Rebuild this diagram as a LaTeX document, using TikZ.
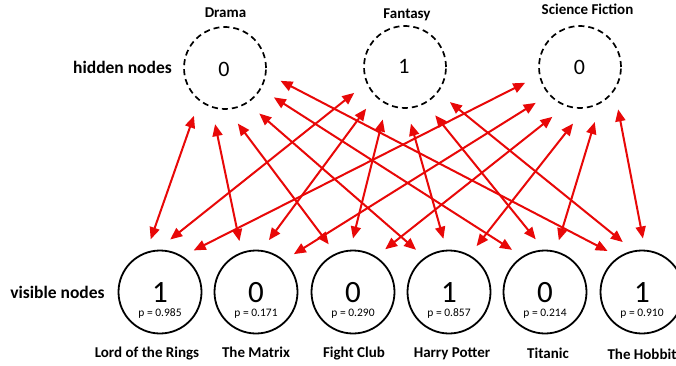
\documentclass[tikz,border=0pt]{standalone}
\usepackage{fontspec}
\setmainfont{Carlito}
\usetikzlibrary{arrows.meta}
\definecolor{arrred}{RGB}{232,8,8}
\tikzset{
  hid/.style={circle,draw=black,line width=1.7pt,dash pattern=on 6pt off 4pt,minimum size=82pt,inner sep=0pt,outer sep=16pt},
  vis/.style={circle,draw=black,line width=1.8pt,minimum size=83pt,inner sep=0pt,outer sep=12pt},
  conn/.style={arrred,line width=2pt,{Triangle[length=12pt,width=10pt]}-{Triangle[length=12pt,width=10pt]}},
  ttl/.style={font=\fontsize{15}{18}\selectfont\bfseries,anchor=base,inner sep=0pt},
  side/.style={font=\fontsize{17.5}{20}\selectfont\bfseries,anchor=base,inner sep=0pt},
  hdig/.style={font=\fontsize{22}{26}\selectfont,inner sep=0pt},
  vdig/.style={font=\fontsize{31}{34}\selectfont,inner sep=0pt},
  ptxt/.style={font=\fontsize{11.5}{13}\selectfont,anchor=base,inner sep=0pt}
}
\begin{document}
\begin{tikzpicture}[x=1pt,y=-1pt]
\useasboundingbox[fill=white] (0,0) rectangle (676,366);
% hidden nodes
\node[hid] (dr) at (225,68) {};
\node[hid] (fa) at (405,67) {};
\node[hid] (sf) at (580,67) {};
\node[hdig] (drv) at (224,69) {0};
\node[hdig] (fav) at (404,66) {1};
\node[hdig] (sfv) at (579.5,67) {0};
\node[ttl] (drt) at (225.5,17.5) {Drama};
\node[ttl] (fat) at (407,18.5) {Fantasy};
\node[ttl] (sft) at (587.5,15) {Science Fiction};
\node[side] (hl) at (122.5,74) {hidden nodes};
% visible nodes
\node[vis] (lotr) at (160,292) {};
\node[vis] (mat) at (256,292) {};
\node[vis] (fc) at (353,292) {};
\node[vis] (hp) at (449,292) {};
\node[vis] (tit) at (545,292) {};
\node[vis] (hob) at (642,292) {};
\node[vdig] (lotrv) at (160,292.5) {1};
\node[vdig] (matv) at (256,292.5) {0};
\node[vdig] (fcv) at (353,292.5) {0};
\node[vdig] (hpv) at (449,292.5) {1};
\node[vdig] (titv) at (545,292.5) {0};
\node[vdig] (hobv) at (642,292.5) {1};
\node[ptxt] (lotrp) at (160,316.5) {p = 0.985};
\node[ptxt] (matp) at (256,316.5) {p = 0.171};
\node[ptxt] (fcp) at (353,316.5) {p = 0.290};
\node[ptxt] (hpp) at (449,316.5) {p = 0.857};
\node[ptxt] (titp) at (545,316.5) {p = 0.214};
\node[ptxt] (hobp) at (642,316.5) {p = 0.910};
\node[ttl] (lotrt) at (147,357) {Lord of the Rings};
\node[ttl] (matt) at (256,357) {The Matrix};
\node[ttl] (fct) at (354,357) {Fight Club};
\node[ttl] (hpt) at (452,357.5) {Harry Potter};
\node[ttl] (titt) at (548,358) {Titanic};
\node[ttl] (hobt) at (642,359) {The Hobbit};
\node[side] (vl) at (57.5,298.3) {visible nodes};
% connections
\draw[conn] (dr.237) -- (lotr.100);
\draw[conn] (dr.260) -- (mat.108);
\draw[conn] (dr.283.5) -- (fc.117);
\draw[conn] (dr.307) -- (hp.128.5);
\draw[conn] (dr.329) -- (tit.128.7);
\draw[conn] (dr.347) -- (hob.130.6);
\draw[conn] (fa.207) -- (lotr.79.5);
\draw[conn] (fa.227) -- (mat.76);
\draw[conn] (fa.247) -- (fc.90);
\draw[conn] (fa.276) -- (hp.96.6);
\draw[conn] (fa.302) -- (tit.100.8);
\draw[conn] (fa.322.5) -- (hob.111);
\draw[conn] (sf.196) -- (lotr.51.5);
\draw[conn] (sf.219.6) -- (mat.45);
\draw[conn] (sf.241) -- (fc.53.3);
\draw[conn] (sf.263) -- (hp.59);
\draw[conn] (sf.285) -- (tit.75);
\draw[conn] (sf.312) -- (hob.89);
\end{tikzpicture}
\end{document}
